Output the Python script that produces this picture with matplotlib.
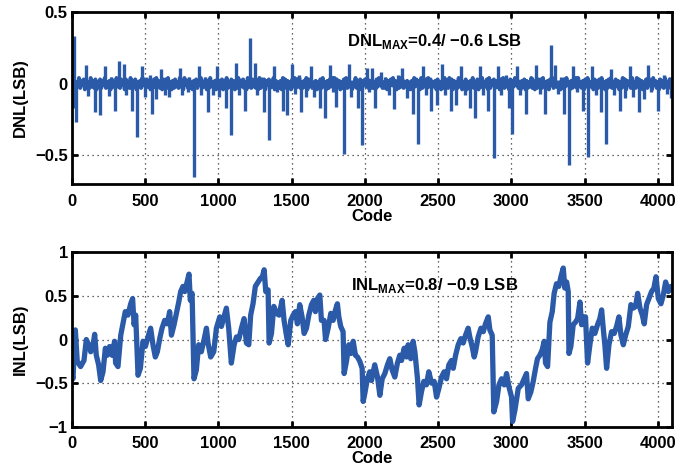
import numpy as np
import matplotlib
matplotlib.use("Agg")
import matplotlib.pyplot as plt

# ---------------- data ----------------
# DNL spikes (code, LSB)
dnl_spike_codes = [2, 6, 14, 30, 98, 112, 155, 194, 223, 250, 265, 291, 319, 355, 370, 412, 446, 478, 500,
                   530, 546, 575, 610, 632, 640, 664, 735, 752, 790, 800, 833, 867, 880, 905, 929, 962, 990,
                   1005, 1054, 1088, 1122, 1140, 1184, 1218, 1248, 1265, 1290, 1311, 1346, 1378, 1400, 1441,
                   1471, 1503, 1525, 1550, 1566, 1597, 1630, 1652, 1692, 1726, 1760, 1782, 1800, 1858, 1890,
                   1905, 1935, 1954, 1980, 2014, 2031, 2045, 2072, 2110, 2140, 2165, 2199, 2225, 2250, 2285,
                   2329, 2363, 2397, 2420, 2454, 2489, 2527, 2550, 2587, 2620, 2655, 2680, 2716, 2750, 2785,
                   2808, 2842, 2880, 2909, 2930, 2965, 2983, 3005, 3040, 3060, 3103, 3140, 3171, 3195, 3229,
                   3267, 3296, 3315, 3340, 3361, 3393, 3422, 3445, 3486, 3520, 3553, 3575, 3611, 3643, 3677,
                   3700, 3741, 3775, 3809, 3830, 3871, 3905, 3934, 3955, 4003, 4040, 4060, 4080, 4092]
dnl_spike_values = [0.15, -0.17, 0.33, -0.27, 0.13, -0.085, -0.20, -0.22, 0.12, -0.085, 0.05, -0.19, 0.16,
                    0.14, -0.08, -0.19, -0.37, 0.12, -0.09, 0.06, -0.21, -0.11, 0.10, -0.08, 0.05, -0.09,
                    0.11, -0.08, -0.06, 0.05, -0.65, 0.12, -0.08, 0.05, -0.20, -0.08, 0.12, -0.09, -0.17,
                    -0.36, 0.145, -0.08, -0.19, 0.32, 0.145, -0.08, 0.05, -0.20, -0.39, 0.12, -0.06, -0.19,
                    -0.22, 0.14, -0.07, 0.06, -0.20, -0.09, 0.12, -0.09, -0.17, -0.24, 0.13, -0.06, -0.16,
                    -0.49, 0.14, -0.09, 0.04, -0.17, -0.43, 0.11, -0.06, 0.11, -0.17, 0.08, 0.05, -0.08,
                    -0.18, 0.06, 0.11, -0.10, -0.21, -0.42, 0.12, -0.08, -0.19, -0.15, 0.14, -0.08, -0.19,
                    -0.15, 0.12, -0.08, -0.17, -0.24, 0.12, -0.08, -0.19, -0.52, 0.12, -0.08, 0.06, -0.17,
                    -0.35, 0.12, -0.08, -0.21, 0.05, 0.13, -0.07, -0.21, 0.27, 0.13, -0.07, 0.05, -0.21,
                    -0.565, 0.12, -0.06, -0.19, -0.51, 0.12, -0.08, -0.20, -0.42, 0.10, -0.08, -0.19, -0.10,
                    0.12, -0.09, -0.20, -0.11, 0.13, -0.06, -0.19, 0.06, -0.07, 0.05, -0.10]
# DNL background (hundredths of LSB), one value every 8 codes
dnl_noise_step = 8
dnl_noise = [3, -3, 2, -4, 1, -2, 4, -3, 2, -1, 3, -4, 2, -2, 1, -3,
             4, -2, 2, -3, 3, -4, 1, -2, 3, -3, 2, -1, 4, -3, 1, -2,
             2, -4, 3, -2, 1, -3, 4, -2, 2, -3, 3, -1, 2, -4, 3, -2,
             1, -3, 4, -3, 2, -2, 3, -4, 1, -2, 2, -3, 4, -1, 3, -3,
             3, -2, 1, -4, 2, -3, 3, -2, 4, -1, 2, -3, 1, -4, 3, -2,
             2, -3, 4, -2, 1, -4, 2, -3, 3, -2, 1, -3, 4, -2, 2, -4,
             4, -1, 2, -3, 3, -3, 1, -4, 2, -2, 3, -3, 2, -1, 4, -3,
             1, -2, 3, -4, 2, -3, 4, -2, 1, -3, 2, -4, 3, -2, 2, -3,
             3, -4, 2, -2, 4, -3, 1, -2, 3, -1, 2, -4, 1, -3, 4, -2,
             2, -2, 3, -3, 1, -4, 4, -2, 2, -3, 3, -2, 1, -3, 2, -4,
             4, -3, 1, -2, 3, -4, 2, -1, 3, -3, 1, -2, 4, -4, 2, -3,
             1, -3, 2, -4, 4, -2, 3, -3, 2, -1, 1, -4, 3, -2, 4, -3,
             3, -2, 4, -3, 1, -3, 2, -2, 4, -4, 3, -1, 2, -3, 1, -2,
             2, -4, 1, -2, 3, -3, 4, -2, 1, -4, 2, -3, 3, -2, 4, -1,
             4, -3, 3, -1, 2, -4, 1, -3, 3, -2, 4, -3, 2, -2, 1, -4,
             1, -2, 4, -3, 2, -3, 3, -4, 2, -1, 3, -2, 4, -3, 2, -3,
             2, -3, 1, -4, 3, -2, 4, -1, 2, -3, 1, -3, 3, -4, 2, -2,
             3, -1, 4, -2, 2, -4, 1, -3, 4, -2, 3, -3, 1, -2, 2, -4,
             1, -4, 2, -3, 4, -2, 3, -1, 2, -4, 4, -3, 1, -2, 3, -3,
             4, -2, 3, -3, 1, -1, 2, -4, 3, -2, 1, -4, 2, -3, 4, -2,
             2, -3, 4, -1, 3, -4, 2, -2, 1, -3, 4, -2, 3, -4, 1, -3,
             3, -4, 1, -3, 2, -2, 4, -3, 1, -1, 3, -4, 2, -2, 4, -3,
             1, -2, 3, -4, 4, -3, 2, -1, 3, -3, 2, -2, 1, -4, 3, -2,
             4, -3, 2, -2, 1, -4, 3, -3, 2, -2, 4, -1, 3, -3, 1, -4,
             2, -1, 3, -4, 2, -3, 1, -2, 4, -3, 2, -4, 1, -3, 3, -2,
             3, -3, 4, -2, 1, -2, 2, -4, 3, -1, 4, -3, 2, -2, 1, -3,
             1, -4, 2, -3, 3, -2, 4, -1, 1, -4, 2, -3, 3, -2, 4, -3,
             4, -2, 1, -3, 2, -4, 3, -2, 4, -3, 1, -1, 2, -4, 3, -2,
             2, -3, 3, -1, 4, -2, 1, -4, 2, -3, 3, -2, 4, -3, 1, -2,
             3, -2, 2, -4, 1, -3, 4, -2, 3, -4, 2, -1, 1, -3, 4, -3,
             1, -3, 4, -2, 3, -3, 2, -4, 1, -2, 3, -3, 4, -1, 2, -4,
             4, -1, 2, -3, 1, -4, 3, -2, 2, -3, 4, -2, 1, -3, 3, -2]

# INL trace (code, LSB)
inl_codes = [0, 7, 23, 36, 59, 82, 98, 114, 128, 144, 155, 166, 182, 196, 212, 228, 241, 257, 273, 291, 298,
             314, 333, 348, 364, 382, 401, 414, 424, 435, 451, 467, 485, 501, 519, 537, 553, 569, 583, 599,
             615, 633, 651, 667, 679, 697, 713, 729, 742, 758, 770, 786, 799, 808, 820, 833, 849, 865, 883,
             902, 918, 929, 947, 968, 986, 1009, 1020, 1038, 1054, 1070, 1088, 1107, 1123, 1139, 1157, 1175,
             1191, 1207, 1220, 1236, 1252, 1271, 1286, 1300, 1312, 1323, 1339, 1346, 1362, 1378, 1396, 1414,
             1435, 1448, 1464, 1476, 1494, 1510, 1526, 1539, 1555, 1571, 1585, 1601, 1617, 1635, 1651, 1662,
             1676, 1692, 1703, 1721, 1731, 1749, 1767, 1783, 1799, 1812, 1822, 1835, 1851, 1858, 1874, 1890,
             1904, 1920, 1935, 1949, 1965, 1981, 1988, 1999, 2017, 2033, 2045, 2067, 2086, 2102, 2118, 2136,
             2154, 2170, 2186, 2204, 2222, 2238, 2250, 2268, 2284, 2295, 2313, 2329, 2341, 2359, 2370, 2386,
             2402, 2420, 2436, 2455, 2473, 2489, 2505, 2523, 2541, 2557, 2573, 2591, 2603, 2619, 2637, 2655,
             2671, 2687, 2705, 2716, 2732, 2746, 2755, 2773, 2792, 2808, 2823, 2842, 2853, 2869, 2880, 2899,
             2915, 2933, 2951, 2967, 2983, 3001, 3008, 3024, 3047, 3069, 3087, 3103, 3115, 3133, 3149, 3165,
             3178, 3194, 3210, 3224, 3233, 3247, 3263, 3279, 3292, 3308, 3324, 3338, 3354, 3365, 3377, 3388,
             3393, 3406, 3422, 3438, 3452, 3468, 3479, 3490, 3506, 3520, 3536, 3552, 3570, 3588, 3604, 3616,
             3627, 3638, 3650, 3666, 3684, 3702, 3718, 3734, 3748, 3764, 3780, 3798, 3816, 3832, 3848, 3862,
             3878, 3894, 3907, 3923, 3939, 3957, 3973, 3987, 4003, 4021, 4037, 4053, 4071, 4089, 4095]
inl_values = [-0.40, -0.45, 0.11, -0.25, -0.31, -0.24, 0.00, -0.06, -0.14, -0.06, 0.06, -0.18, -0.29, -0.47,
              -0.37, -0.10, -0.18, -0.08, -0.18, -0.02, -0.27, -0.31, 0.05, 0.18, 0.32, 0.28, 0.41, 0.47, 0.17,
              0.28, -0.41, -0.33, -0.02, -0.08, 0.03, 0.13, -0.06, -0.20, -0.14, 0.01, 0.13, 0.22, 0.18, 0.32,
              0.05, 0.17, 0.30, 0.43, 0.55, 0.61, 0.55, 0.66, 0.75, 0.45, 0.53, -0.45, -0.35, -0.06, -0.14,
              0.00, 0.13, -0.04, -0.20, -0.14, 0.13, 0.26, 0.15, 0.26, 0.36, 0.13, -0.27, -0.06, 0.03, 0.00,
              0.13, 0.24, -0.04, -0.06, 0.28, 0.41, 0.61, 0.66, 0.70, 0.72, 0.80, 0.55, 0.57, -0.04, 0.07,
              0.38, 0.30, 0.28, 0.45, 0.22, 0.05, -0.06, 0.22, 0.28, 0.32, 0.18, 0.40, 0.26, 0.07, 0.13, 0.28,
              0.40, 0.45, 0.32, 0.47, 0.51, 0.22, 0.22, 0.00, 0.13, 0.30, 0.22, 0.34, 0.41, 0.26, 0.15, 0.09,
              -0.39, -0.25, -0.06, -0.16, -0.02, -0.18, -0.20, -0.25, -0.33, -0.71, -0.62, -0.45, -0.37, -0.47,
              -0.29, -0.43, -0.64, -0.45, -0.39, -0.29, -0.22, -0.35, -0.43, -0.27, -0.18, -0.24, -0.10, -0.20,
              -0.06, -0.22, -0.02, -0.14, -0.45, -0.75, -0.60, -0.48, -0.52, -0.37, -0.50, -0.48, -0.66, -0.56,
              -0.43, -0.37, -0.45, -0.29, -0.24, -0.33, -0.18, -0.06, 0.01, -0.04, 0.05, 0.13, 0.03, -0.08,
              -0.20, -0.14, 0.03, 0.13, 0.09, 0.18, 0.26, 0.11, 0.05, -0.83, -0.71, -0.52, -0.45, -0.52, -0.39,
              -0.54, -0.66, -0.94, -0.81, -0.56, -0.52, -0.45, -0.39, -0.68, -0.60, -0.48, -0.33, -0.22, -0.18,
              -0.12, -0.02, -0.27, -0.31, 0.20, 0.32, 0.53, 0.64, 0.61, 0.72, 0.82, 0.59, 0.66, 0.55, -0.16,
              -0.08, 0.17, 0.20, 0.24, 0.43, 0.17, 0.26, 0.26, -0.27, -0.06, 0.13, 0.07, 0.17, 0.24, 0.34, 0.13,
              -0.06, -0.33, -0.06, 0.09, 0.07, 0.15, 0.26, 0.05, -0.06, 0.05, 0.15, 0.40, 0.36, 0.38, 0.53,
              0.36, 0.28, 0.18, 0.40, 0.47, 0.55, 0.59, 0.72, 0.47, 0.41, 0.51, 0.66, 0.55, 0.61, 0.58]

x_ticks = [0, 500, 1000, 1500, 2000, 2500, 3000, 3500, 4000]
dnl_yticks = [-0.5, 0, 0.5]
inl_yticks = [-1, -0.5, 0, 0.5, 1]
dnl_text = "DNL$_{\\mathbf{MAX}}$=0.4/ \u22120.6 LSB"
inl_text = "INL$_{\\mathbf{MAX}}$=0.8/ \u22120.9 LSB"

# ---------------- style ----------------
plt.rcParams['font.family'] = ['Liberation Sans', 'DejaVu Sans']
plt.rcParams['font.weight'] = 'bold'
plt.rcParams['mathtext.fontset'] = 'custom'
plt.rcParams['mathtext.bf'] = 'Liberation Sans:bold'
plt.rcParams['mathtext.rm'] = 'Liberation Sans:bold'
plt.rcParams['axes.unicode_minus'] = True

LINE = '#2a5aa8'

fig = plt.figure(figsize=(6.92, 4.68), dpi=100)
ax1 = fig.add_axes([0.104, 0.6068, 0.867, 0.3675])
ax2 = fig.add_axes([0.104, 0.0882, 0.867, 0.3726])

# DNL: dense background trace plus single-code spikes
grid_codes = np.arange(len(dnl_noise)) * dnl_noise_step
ax1.plot(grid_codes, np.array(dnl_noise) / 100.0, color=LINE, lw=2.8)
ax1.vlines(dnl_spike_codes, 0, dnl_spike_values, color=LINE, lw=2.4, capstyle='butt')

ax2.plot(inl_codes, inl_values, color=LINE, lw=3.8)

def style(ax, yticks, ylim, ylabel):
    ax.set_xlim(0, 4096)
    ax.set_ylim(*ylim)
    ax.set_xticks(x_ticks)
    ax.set_yticks(yticks)
    ax.set_yticklabels([("%g" % v).replace('-', '\u2212') for v in yticks])
    ax.tick_params(direction='in', length=4, width=2, top=True, right=True, labelsize=12)
    ax.tick_params(axis='x', pad=7)
    ax.tick_params(axis='y', pad=3)
    for s in ax.spines.values():
        s.set_linewidth(2.0)
    ax.grid(True, linestyle=(0, (1, 3)), color='#333333', linewidth=0.9)
    ax.set_axisbelow(True)
    ax.set_xlabel('Code', fontsize=12, fontweight='bold', labelpad=0)
    ax.set_ylabel(ylabel, fontsize=12, fontweight='bold', labelpad=5)

style(ax1, dnl_yticks, (-0.7, 0.5), 'DNL(LSB)')
style(ax2, inl_yticks, (-1, 1), 'INL(LSB)')

ax1.text(1876, 0.265, dnl_text, fontsize=12, fontweight='bold', va='baseline', ha='left')
ax2.text(1903, 0.57, inl_text, fontsize=12, fontweight='bold', va='baseline', ha='left')

fig.savefig('out.png', dpi=100)
